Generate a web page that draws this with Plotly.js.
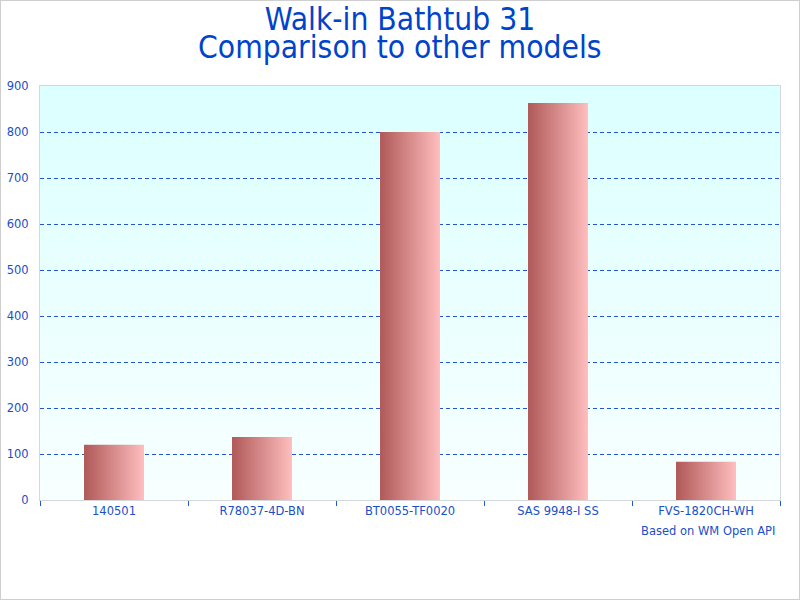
<!DOCTYPE html>
<html>
<head>
<meta charset="utf-8">
<script src="https://cdn.plot.ly/plotly-3.0.1.min.js"></script>
<style>
  html, body { margin: 0; padding: 0; background: #fff; }
  #wrap { position: relative; width: 800px; height: 600px; }
  #chart { position: absolute; left: 0; top: 0; width: 800px; height: 600px; }
  #frame { position: absolute; left: 0; top: 0; width: 798px; height: 598px;
           border: 1px solid #cfcfcf; pointer-events: none; }
</style>
</head>
<body>
<div id="wrap">
  <div id="chart"></div>
  <div id="frame"></div>
</div>
<script>
// Data
const models = ["140501", "R78037-4D-BN", "BT0055-TF0020", "SAS 9948-I SS", "FVS-1820CH-WH"];
const values = [120, 137, 800, 863, 83];
const yTicks = [0, 100, 200, 300, 400, 500, 600, 700, 800, 900];
const titleLine1 = "Walk-in Bathtub 31";
const titleLine2 = "Comparison to other models";
const sourceNote = "Based on WM Open API";

const blue = "#1a4fc8";
const titleFont = { family: "DejaVu Sans Condensed, DejaVu Sans, sans-serif", size: 31.5, color: "#0044cc" };

const trace = {
  type: "bar",
  x: models,
  y: values,
  width: 0.405,
  marker: { color: "#d88888", line: { width: 0 } },
  hoverinfo: "x+y"
};

const layout = {
  width: 800,
  height: 600,
  paper_bgcolor: "#ffffff",
  plot_bgcolor: "#e6ffff",
  margin: { l: 40, r: 20, t: 86, b: 100 },
  showlegend: false,
  font: { family: "DejaVu Sans, Verdana, sans-serif", color: blue, size: 11.5 },
  title: {
    text: titleLine1,
    font: titleFont,
    x: 0.5, xanchor: "center",
    y: 0.968, yanchor: "middle", yref: "container"
  },
  xaxis: {
    type: "category",
    showline: true, linecolor: "#d4d8dc", linewidth: 1, mirror: true,
    ticks: "outside", tickson: "boundaries", ticklen: 5, tickcolor: "#1a5fd0", tickwidth: 1,
    tickfont: { size: 11.5, color: blue },
    showgrid: false, zeroline: false, fixedrange: true
  },
  yaxis: {
    range: [0, 900],
    tickvals: yTicks,
    showline: true, linecolor: "#d4d8dc", linewidth: 1, mirror: true,
    ticks: "", ticklabelstandoff: 8,
    tickfont: { size: 11.5, color: blue },
    showgrid: true, gridcolor: "#2255cc", gridwidth: 1, griddash: "4px,3px",
    zeroline: false, fixedrange: true
  },
  annotations: [
    {
      text: titleLine2,
      xref: "paper", yref: "paper",
      x: 0.5, y: 1.0942, xanchor: "center", yanchor: "middle",
      xshift: -10,
      showarrow: false,
      font: titleFont
    },
    {
      text: sourceNote,
      xref: "paper", yref: "paper",
      x: 1, y: 0, xanchor: "right", yanchor: "middle",
      xshift: -3, yshift: -31,
      showarrow: false,
      font: { size: 11.5, color: blue }
    }
  ]
};

const gd = document.getElementById("chart");

function addGradients() {
  const svg = gd.querySelector("svg.main-svg");
  if (!svg) return;
  const NS = "http://www.w3.org/2000/svg";
  let defs = svg.querySelector("defs");
  if (!defs) { defs = document.createElementNS(NS, "defs"); svg.insertBefore(defs, svg.firstChild); }
  if (!defs.querySelector("#barGrad")) {
    const g = document.createElementNS(NS, "linearGradient");
    g.setAttribute("id", "barGrad");
    g.setAttribute("x1", "0"); g.setAttribute("y1", "0");
    g.setAttribute("x2", "1"); g.setAttribute("y2", "0");
    [["0", "#b05858"], ["1", "#ffbebe"]].forEach(([o, c]) => {
      const s = document.createElementNS(NS, "stop");
      s.setAttribute("offset", o); s.setAttribute("stop-color", c);
      g.appendChild(s);
    });
    defs.appendChild(g);
    const b = document.createElementNS(NS, "linearGradient");
    b.setAttribute("id", "bgGrad");
    b.setAttribute("x1", "0"); b.setAttribute("y1", "0");
    b.setAttribute("x2", "0"); b.setAttribute("y2", "1");
    [["0", "#dcffff"], ["1", "#f8ffff"]].forEach(([o, c]) => {
      const s = document.createElementNS(NS, "stop");
      s.setAttribute("offset", o); s.setAttribute("stop-color", c);
      b.appendChild(s);
    });
    defs.appendChild(b);
  }
  gd.querySelectorAll(".bars .point path").forEach(p => { p.style.fill = "url(#barGrad)"; });
  gd.querySelectorAll(".bglayer rect.bg").forEach(r => { r.style.fill = "url(#bgGrad)"; });
}

Plotly.newPlot(gd, [trace], layout, { displayModeBar: false, staticPlot: true }).then(() => {
  addGradients();
  gd.on("plotly_afterplot", addGradients);
});
</script>
</body>
</html>
